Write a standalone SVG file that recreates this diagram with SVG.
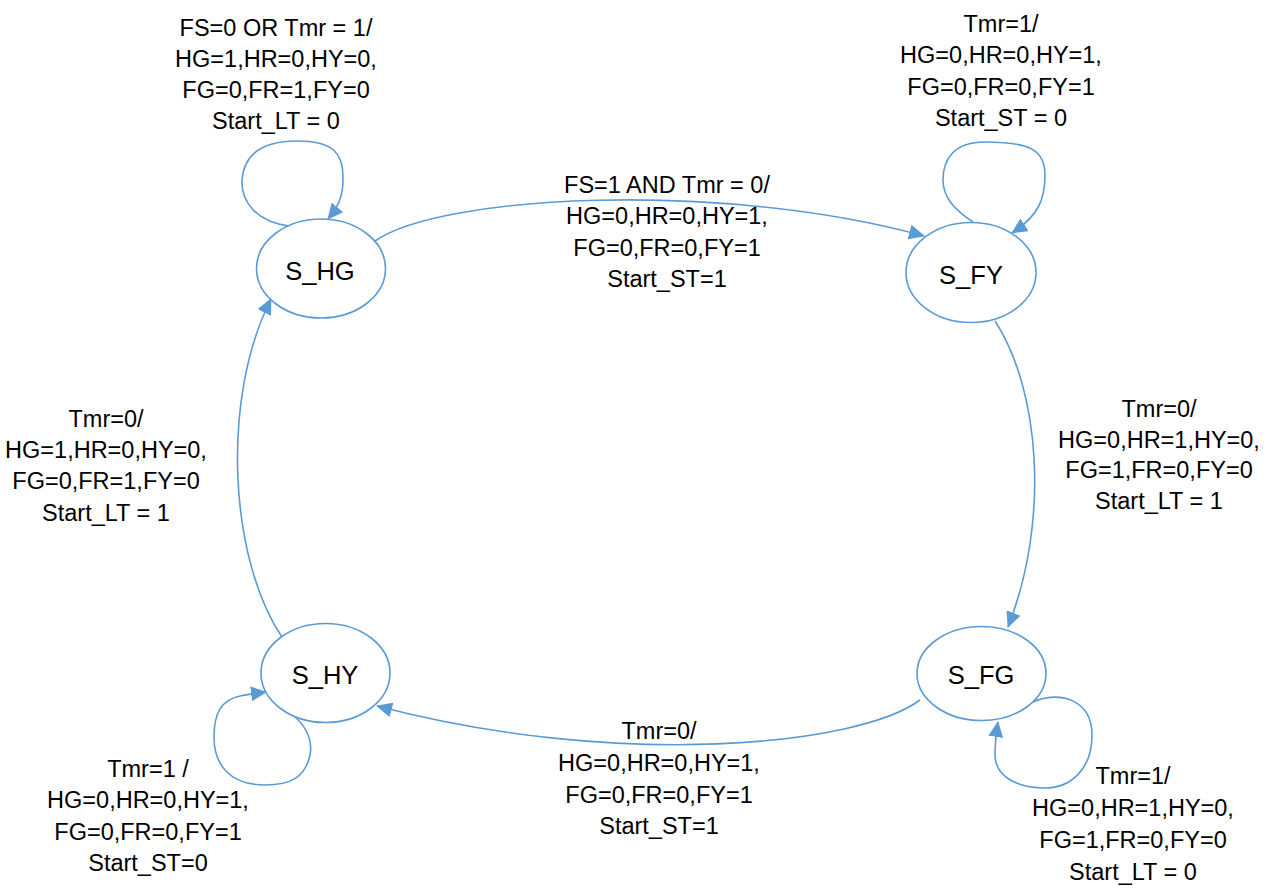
<svg xmlns="http://www.w3.org/2000/svg" width="1270" height="893" viewBox="0 0 1270 893">
  <style>
    .state { fill: #ffffff; stroke: #5B9BD5; stroke-width: 1.6; }
    .name { font-family: "Liberation Sans", Arial, sans-serif; font-size: 25.5px; fill: #000000; text-anchor: middle; }
    .edge { fill: none; stroke: #5B9BD5; stroke-width: 1.6; marker-end: url(#arrow); }
    .lbl { font-family: "Liberation Sans", Arial, sans-serif; font-size: 23.5px; fill: #000000; text-anchor: middle; }
  </style>
  <defs>
    <marker id="arrow" markerUnits="userSpaceOnUse" markerWidth="16" markerHeight="15" refX="15" refY="7.5" orient="auto">
      <path d="M0,0 L16,7.5 L0,15 Z" fill="#5B9BD5"/>
    </marker>
  </defs>

  <rect width="1270" height="893" fill="#ffffff"/>

  <!-- transitions -->
  <g id="connectors">
    <!-- S_HG self loop -->
    <path class="edge" d="M 289,226 C 255,222 241,200 242,180 C 244,155 262,141 297,141 C 332,141 344,152 343,180 C 343,198 337,208 328,219"/>
    <!-- S_HG to S_FY -->
    <path class="edge" d="M 375,241 C 440,195 720,180 924,236"/>
    <!-- S_FY self loop -->
    <path class="edge" d="M 973,222 C 955,210 943,198 943,180 C 943,158 955,142 985,142 C 1030,142 1045,150 1045,175 C 1045,200 1038,216 1012,233"/>
    <!-- S_FY to S_FG -->
    <path class="edge" d="M 995,321 C 1040,390 1050,520 1008,627"/>
    <!-- S_FG self loop -->
    <path class="edge" d="M 1033,702 C 1060,690 1092,700 1092,735 C 1092,770 1070,788 1045,788 C 1015,788 995,775 995,755 C 995,745 996,735 998,722"/>
    <!-- S_FG to S_HY -->
    <path class="edge" d="M 920,700 C 860,745 620,770 377,706"/>
    <!-- S_HY self loop -->
    <path class="edge" d="M 295,717 C 310,730 312,745 310,755 C 305,778 290,785 265,785 C 230,785 214,765 214,737 C 214,712 222,700 240,696 C 250,694 258,693 266,692"/>
    <!-- S_HY to S_HG -->
    <path class="edge" d="M 282,637 C 230,560 220,400 271,299"/>
  </g>

  <!-- states -->
  <g id="S_HG">
    <ellipse class="state" cx="321" cy="268.5" rx="64.5" ry="49.5"/>
    <text class="name" x="320" y="280">S_HG</text>
  </g>
  <g id="S_FY">
    <ellipse class="state" cx="971" cy="272.5" rx="65" ry="50"/>
    <text class="name" x="971" y="284">S_FY</text>
  </g>
  <g id="S_HY">
    <ellipse class="state" cx="325.5" cy="673" rx="64.5" ry="49.5"/>
    <text class="name" x="325" y="684">S_HY</text>
  </g>
  <g id="S_FG">
    <ellipse class="state" cx="981.5" cy="673.5" rx="64.5" ry="47"/>
    <text class="name" x="981" y="684">S_FG</text>
  </g>

  <!-- transition labels -->
  <g id="label-HG-loop">
    <text class="lbl" x="276" y="36">FS=0 OR Tmr = 1/</text>
    <text class="lbl" x="276" y="67">HG=1,HR=0,HY=0,</text>
    <text class="lbl" x="276" y="98">FG=0,FR=1,FY=0</text>
    <text class="lbl" x="276" y="129">Start_LT = 0</text>
  </g>
  <g id="label-FY-loop">
    <text class="lbl" x="1001" y="32">Tmr=1/</text>
    <text class="lbl" x="1001" y="63">HG=0,HR=0,HY=1,</text>
    <text class="lbl" x="1001" y="95">FG=0,FR=0,FY=1</text>
    <text class="lbl" x="1001" y="126">Start_ST = 0</text>
  </g>
  <g id="label-HG-FY">
    <text class="lbl" x="667" y="193">FS=1 AND Tmr = 0/</text>
    <text class="lbl" x="667" y="224">HG=0,HR=0,HY=1,</text>
    <text class="lbl" x="667" y="256">FG=0,FR=0,FY=1</text>
    <text class="lbl" x="667" y="287">Start_ST=1</text>
  </g>
  <g id="label-HY-HG">
    <text class="lbl" x="106" y="427">Tmr=0/</text>
    <text class="lbl" x="106" y="458">HG=1,HR=0,HY=0,</text>
    <text class="lbl" x="106" y="489">FG=0,FR=1,FY=0</text>
    <text class="lbl" x="106" y="521">Start_LT = 1</text>
  </g>
  <g id="label-FY-FG">
    <text class="lbl" x="1159" y="417">Tmr=0/</text>
    <text class="lbl" x="1159" y="448">HG=0,HR=1,HY=0,</text>
    <text class="lbl" x="1159" y="478">FG=1,FR=0,FY=0</text>
    <text class="lbl" x="1159" y="509">Start_LT = 1</text>
  </g>
  <g id="label-HY-loop">
    <text class="lbl" x="148" y="777">Tmr=1 /</text>
    <text class="lbl" x="148" y="808">HG=0,HR=0,HY=1,</text>
    <text class="lbl" x="148" y="840">FG=0,FR=0,FY=1</text>
    <text class="lbl" x="148" y="871">Start_ST=0</text>
  </g>
  <g id="label-FG-HY">
    <text class="lbl" x="659" y="739">Tmr=0/</text>
    <text class="lbl" x="659" y="771">HG=0,HR=0,HY=1,</text>
    <text class="lbl" x="659" y="803">FG=0,FR=0,FY=1</text>
    <text class="lbl" x="659" y="834">Start_ST=1</text>
  </g>
  <g id="label-FG-loop">
    <text class="lbl" x="1133" y="784">Tmr=1/</text>
    <text class="lbl" x="1133" y="816">HG=0,HR=1,HY=0,</text>
    <text class="lbl" x="1133" y="848">FG=1,FR=0,FY=0</text>
    <text class="lbl" x="1133" y="880">Start_LT = 0</text>
  </g>
</svg>
